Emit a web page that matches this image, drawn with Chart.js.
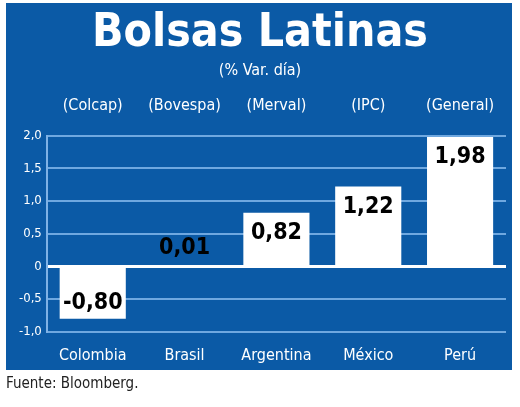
<!DOCTYPE html>
<html><head><meta charset="utf-8">
<script src="https://cdn.jsdelivr.net/npm/chart.js@4/dist/chart.umd.min.js"></script>
<style>body{margin:0;background:#fff}#wrap{width:520px;height:407px}</style>
</head><body><div id="wrap"><canvas id="c"></canvas></div>
<script>
var countries = ['Colombia','Brasil','Argentina','México','Perú'];
var indices = ['(Colcap)','(Bovespa)','(Merval)','(IPC)','(General)'];
var values = [-0.80, 0.01, 0.82, 1.22, 1.98];
var BLUE = '#0b5aa6';
var FONT = '"Liberation Sans Narrow", "DejaVu Sans Condensed", "Roboto", sans-serif';
var fmt = function(v){ return v.toFixed(2).replace('.', ','); };

var panel = {
  id: 'panel',
  beforeDraw: function(chart){
    var c = chart.ctx;
    c.save();
    c.fillStyle = BLUE;
    c.fillRect(6, 3, 506, 367);
    c.fillStyle = '#222';
    c.font = '15px ' + FONT;
    c.textBaseline = 'middle';
    c.fillText('Fuente: Bloomberg.', 6, 384);
    c.restore();
  },
  afterDatasetsDraw: function(chart){
    var c = chart.ctx, meta = chart.getDatasetMeta(0);
    var y = chart.scales.y;
    c.save();
    c.fillStyle = '#000';
    c.font = 'bold 23px ' + FONT;
    c.textAlign = 'center';
    c.textBaseline = 'middle';
    meta.data.forEach(function(bar, i){
      var v = values[i], ty;
      if (v < 0) { ty = bar.y - 16; }
      else if (v < 0.3) { ty = y.getPixelForValue(0) - 18; }
      else { ty = bar.y + 20; }
      c.fillText(fmt(v), bar.x, ty);
    });
    c.restore();
  }
};

new Chart(document.getElementById('c'), {
  type: 'bar',
  data: { labels: countries, datasets: [{ data: values, backgroundColor: '#fff', categoryPercentage: 0.72, barPercentage: 1 }] },
  options: {
    responsive: true, maintainAspectRatio: false, animation: false,
    layout: { padding: { left: 14, right: 14, top: 0, bottom: 36 } },
    plugins: {
      legend: { display: false }, tooltip: { enabled: false },
      title: { display: true, text: 'Bolsas Latinas', color: '#fff', font: { family: FONT, size: 46, weight: 'bold' }, padding: { top: 6, bottom: 0 } },
      subtitle: { display: true, text: '(% Var. día)', color: '#fff', font: { family: FONT, size: 16 }, padding: { top: 0, bottom: 4 } }
    },
    scales: {
      x: { grid: { display: false }, border: { display: false },
           ticks: { color: '#fff', font: { family: FONT, size: 16 }, padding: 6 } },
      x2: { position: 'top', type: 'category', labels: indices, grid: { display: false }, border: { display: false },
            ticks: { color: '#fff', font: { family: FONT, size: 16 }, padding: 12 } },
      y: { min: -1, max: 2, ticks: { stepSize: 0.5, color: '#fff', font: { family: FONT, size: 13 }, padding: 5,
             callback: function(v){ return v === 0 ? '0' : v.toFixed(1).replace('.', ','); } },
           border: { display: true, color: '#7fb2e6', width: 2 },
           grid: { color: function(ctx){ return ctx.tick && ctx.tick.value === 0 ? '#fff' : '#6fa8e0'; },
                   lineWidth: function(ctx){ return ctx.tick && ctx.tick.value === 0 ? 3 : 2; }, drawTicks: false } }
    }
  },
  plugins: [panel]
});
</script></body></html>
